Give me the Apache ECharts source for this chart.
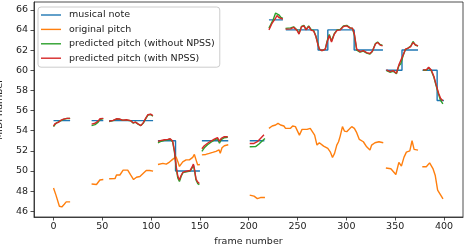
<!DOCTYPE html>
<html><head><meta charset="utf-8">
<script src="https://cdn.jsdelivr.net/npm/echarts@6/dist/echarts.min.js"></script>
<style>html,body{margin:0;padding:0;background:#fff}#c{width:468px;height:244px}</style>
</head><body><div id="c"></div>
<script>
const xTicks = [0, 50, 100, 150, 200, 250, 300, 350, 400];
const yTicks = [46, 48, 50, 52, 54, 56, 58, 60, 62, 64, 66];
const seriesNames = ['musical note', 'original pitch', 'predicted pitch (without NPSS)', 'predicted pitch (with NPSS)'];

const note = [
[0,55],[17,55],null,
[39,55],[51,55],null,
[57,55],[102,55],null,
[107,53],[125,53],[125,50],[150,50],null,
[152,53],[179,53],null,
[201,53],[216,53],null,
[220.7,65],[235,65],null,
[238,64],[271,64],[271,62],[281,62],[281,64],[308,64],[308,62],[337.5,62],null,
[340.5,60],[357,60],[357,62],[373.4,62],null,
[378,60],[393,60],[393,57],[400,57]
];

const original = [
[0,48.3],[2.5,47.6],[6,46.5],[8.5,46.43],[11,46.7],[13,46.93],[17,46.93],null,
[39,48.7],[44,48.66],[46,48.6],[47.5,49.1],[51,49.15],null,
[57,49.22],[63,49.24],[64.5,49.6],[68,49.6],[71.3,50.08],[76,50.08],[79,49.6],[82,49.15],[85,49.38],[88.5,49.45],[92,49.78],[95,50.05],[98.5,50.05],[102,49.98],null,
[107,50.64],[112,50.75],[115.5,50.68],[118.8,50.88],[122,51.15],[125.5,51.4],[127.5,50.9],[129,50.45],[132.4,50.9],[135.8,51.1],[137.5,51.24],[139.2,51.1],[142.6,51.35],[144.3,51.64],[146,51.1],[147.7,50.6],[150,50.64],null,
[152,51.6],[156,51.64],[159.6,51.74],[163,51.84],[166.4,51.95],[169.5,52.1],[170.8,51.75],[172.6,52.3],[175,52.5],[179,52.6],null,
[201,47.6],[205.4,47.5],[208.8,47.26],[212,47.36],[216.6,47.36],null,
[220.7,54.23],[224,54.46],[227.5,54.56],[230,54.73],[232.6,54.56],[236,54.46],[237.7,54.23],[242.8,54.23],[245,54.46],[247.8,54.4],[251.9,53.56],[254.6,54.13],[259.7,54.13],[263,54.23],[264.8,54.4],[267.5,53.56],[269.9,52.57],[272.3,52.8],[276.7,52.47],[281,52.24],[283.5,51.9],[285.8,51.34],[287.9,51.74],[290.2,52.57],[292,52.9],[293.7,53.46],[296,54.4],[298,53.96],[300.4,53.9],[302.8,54.13],[305.5,54.4],[308.2,54.23],[310.6,53.8],[313.3,53.13],[317.4,52.9],[320.8,52.4],[324.2,52.07],[325.9,52.57],[329.3,52.8],[333.4,52.9],[337.8,52.8],null,
[340.5,50.3],[345.6,50.22],[350.7,49.65],[353.8,50.85],[356.4,50.48],[359,51.35],[361.5,51.87],[365,52.0],[367.3,53.0],[369.4,52.14],[373.4,52.07],null,
[377.8,50.42],[381.9,50.42],[385.3,50.8],[388.7,50.24],[391,49.58],[393.5,48.1],[396.5,47.63],[399,47.23]
];

const withoutNPSS = [
[0,54.4],[1.5,54.6],[3.5,54.8],[5,54.8],[7.8,55.0],[10.2,55.12],[13.6,55.2],[17,55.2],null,
[39,54.5],[42.5,54.6],[45.8,54.85],[47.6,55.1],[51,55.2],null,
[57,54.9],[61,55.0],[64.5,55.15],[68,55.12],[70.7,55.05],[74.7,55.05],[79,54.98],[81.5,54.75],[83.9,54.85],[86.6,54.65],[89.5,54.5],[92,54.75],[94.5,55.2],[96.7,55.55],[99.5,55.6],[101.8,55.45],null,
[107,52.8],[110.4,52.95],[113.7,53.05],[117,53.1],[119.5,53.15],[122,52.9],[123.9,51.9],[125.6,50.3],[127.3,49.3],[129,48.95],[130.7,49.45],[132.4,49.8],[135,49.9],[137.5,49.95],[140,50.0],[142,50.3],[143.3,50.6],[144.5,50.0],[146,49.1],[147.7,48.75],[149.4,48.65],null,
[152,51.95],[154.5,52.3],[157.8,52.6],[161.3,52.85],[164.7,53.05],[168,53.2],[170,52.75],[171.8,53.1],[175,53.3],[178.5,53.35],null,
[201,52.4],[207,52.42],[210.5,52.67],[214,53.0],[216.6,53.23],null,
[220.7,64.18],[222.4,64.5],[225,65.0],[227.5,65.67],[229,65.83],[230.8,65.5],[233,65.23],[235,65.15],null,
[237.7,64.15],[242.8,64.2],[246,64.3],[249.5,64.0],[251.5,63.65],[254,64.35],[256.5,64.45],[258.7,64.05],[261.4,64.4],[264.1,64.0],[266.5,63.95],[268.8,63.4],[270.9,62.6],[272.3,62.1],[275,61.95],[278.4,62.1],[280.3,62.9],[282.5,63.55],[284.8,62.9],[287.5,63.6],[290.5,64.0],[293.7,64.05],[297,64.4],[300.4,64.45],[303.9,64.2],[306.2,64.15],[308.2,63.5],[310.6,62.0],[314,61.8],[317.4,61.9],[320.8,61.7],[324.2,61.6],[326.6,61.85],[329.8,62.65],[332,62.8],[334.4,62.55],[337,62.45],null,
[341.1,59.95],[344.6,59.8],[347.9,59.9],[351.3,59.65],[353.8,60.45],[355.8,60.65],[358.2,61.45],[360.5,62.05],[363.2,62.2],[366,62.4],[368.3,62.85],[370.7,62.5],[373.4,62.4],null,
[378.5,60.0],[381.9,60.0],[384.3,60.25],[387,59.95],[389.7,59.3],[392,58.45],[394.5,57.6],[396.5,57.0],[398.9,56.65]
];

const withNPSS = [
[0,54.46],[1.5,54.7],[3.5,54.85],[5,54.82],[7.8,55.05],[10.2,55.15],[13.6,55.22],[17,55.22],null,
[39,54.65],[42.5,54.73],[45.8,54.97],[47.6,55.18],[51,55.22],null,
[57,54.93],[61,55.02],[64.5,55.18],[68,55.15],[70.7,55.05],[74.7,55.08],[79,55.0],[81.5,54.78],[83.9,54.85],[86.6,54.68],[89.5,54.5],[92,54.8],[94.5,55.25],[96.7,55.58],[99.5,55.64],[101.8,55.5],null,
[107,52.93],[110.4,53.03],[113.7,53.1],[117,53.14],[119.5,53.2],[122,52.98],[123.9,52.0],[125.6,50.5],[127.3,49.5],[129,49.1],[130.7,49.55],[132.4,49.85],[135,49.95],[137.5,50.0],[140,50.05],[142,50.4],[143.3,50.68],[144.5,50.15],[146,49.2],[147.7,48.9],[149.4,48.75],null,
[152,52.2],[154.5,52.5],[157.8,52.75],[161.3,52.97],[164.7,53.15],[168,53.3],[170,52.95],[171.8,53.23],[175,53.4],[178.5,53.4],null,
[201,52.73],[205.4,52.73],[208.8,52.9],[212,53.23],[215.6,53.6],null,
[220.7,64.0],[222.4,64.18],[224,64.68],[225.6,64.84],[227.5,65.17],[229,65.43],[230.8,65.23],[232.6,65.1],[235,65.07],null,
[237.7,64.08],[242.8,64.1],[246,64.25],[249.5,63.94],[251.5,63.58],[254,64.3],[256.5,64.4],[258.7,64.0],[261.4,64.34],[264.1,63.95],[266.5,63.9],[268.8,63.34],[270.9,62.52],[272.3,62.09],[275,61.95],[278.4,62.08],[280.3,62.8],[282.5,63.45],[284.8,62.8],[287.5,63.55],[290.5,63.95],[293.7,64.0],[297,64.34],[300.4,64.4],[303.9,64.18],[306.2,64.18],[308.2,63.6],[310.6,62.09],[314,61.85],[317.4,61.95],[320.8,61.75],[324.2,61.66],[326.6,61.88],[329.8,62.6],[332,62.75],[334.4,62.52],[337,62.42],null,
[341.1,60.03],[344.6,59.86],[347.9,59.96],[351.3,59.7],[353.8,60.53],[355.8,60.69],[358.2,61.52],[360.5,62.09],[363.2,62.19],[366,62.35],[368.3,62.75],[370.7,62.52],[373.4,62.42],null,
[378.5,60.03],[381.9,60.03],[384.3,60.3],[387,60.03],[389.7,59.37],[392,58.54],[394.5,57.71],[396.5,57.21],[398.9,56.98]
];

const colors = ['#1f77b4', '#ff7f0e', '#2ca02c', '#d62728'];
const FONT = 'DejaVu Sans';
const TXT = '#222';
function prep(arr){ return arr.map(p => p === null ? ['-','-'] : p); }
const allData = [note, original, withoutNPSS, withNPSS];

const chart = echarts.init(document.getElementById('c'), null, {renderer:'canvas'});
chart.setOption({
  animation: false,
  backgroundColor: '#fff',
  grid: {left:34, right:5, top:2, bottom:27, show:true, borderColor:TXT, borderWidth:0.8, outerBoundsMode:'none'},
  legend: {
    orient:'vertical', left:38, top:7, padding:[3,5,4,3], itemGap:4.4, itemWidth:20, itemHeight:10,
    backgroundColor:'rgba(255,255,255,0.8)', borderColor:'#ccc', borderWidth:1, borderRadius:3,
    icon:'path://M0,4.3H20V5.7H0Z',
    textStyle:{fontFamily:FONT, fontSize:9.5, color:TXT, padding:[0,0,0,3]},
    data: seriesNames
  },
  xAxis: {
    type:'value', min:-20, max:419.5,
    name:'frame number', nameLocation:'middle', nameGap:13.5,
    nameTextStyle:{fontFamily:FONT, fontSize:9.5, color:TXT},
    axisLine:{show:true, onZero:false, lineStyle:{color:TXT, width:0.8}},
    axisTick:{show:true, length:3.5, customValues:xTicks, lineStyle:{color:TXT, width:0.8}},
    axisLabel:{customValues:xTicks, margin:5, fontFamily:FONT, fontSize:9.5, color:TXT},
    splitLine:{show:false}
  },
  yAxis: {
    type:'value', min:45.43, max:66.77,
    name:'MIDI number', nameLocation:'middle', nameGap:27, nameRotate:90,
    nameTextStyle:{fontFamily:FONT, fontSize:9.5, color:TXT},
    axisLine:{show:true, onZero:false, lineStyle:{color:TXT, width:0.8}},
    axisTick:{show:true, length:3.5, customValues:yTicks, lineStyle:{color:TXT, width:0.8}},
    axisLabel:{customValues:yTicks, margin:6, fontFamily:FONT, fontSize:9.5, color:TXT},
    splitLine:{show:false}
  },
  series: seriesNames.map((n,i) => ({
    name:n, type:'line', data:prep(allData[i]), symbol:'none', showSymbol:false,
    connectNulls:false, color:colors[i], lineStyle:{color:colors[i], width:1.4}, z:2+i
  }))
});
</script></body></html>
